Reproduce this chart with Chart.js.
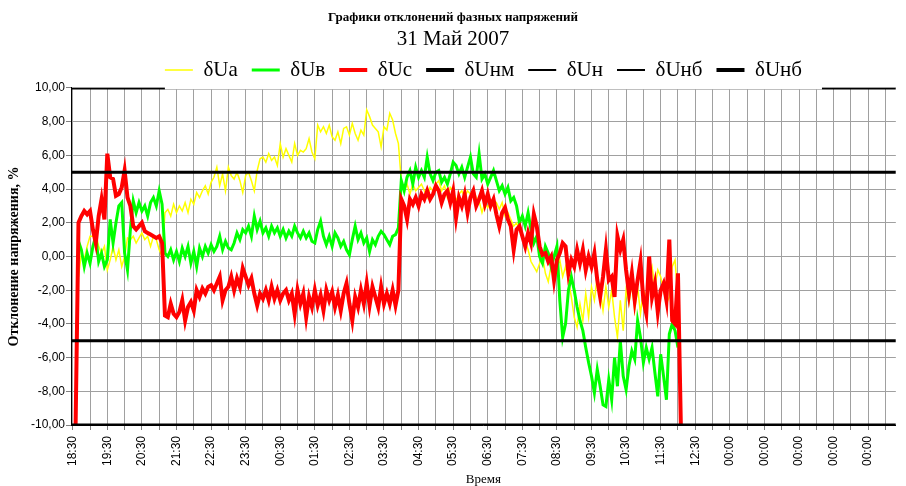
<!DOCTYPE html>
<html>
<head>
<meta charset="utf-8">
<script src="https://cdn.jsdelivr.net/npm/chart.js@4.4.1/dist/chart.umd.min.js"></script>
<style>
  html, body { margin: 0; padding: 0; background: #fff; overflow: hidden; }
</style>
</head>
<body>
<canvas id="chart" width="906" height="486"></canvas>
<script>
// ==================== Phase voltage deviations, 31 May 2007 ====================

// --- time base: minutes after 18:30, one sample every 5 min starting at 18:35 ---
const T0 = 5, STEP = 5;
const X_MIN = -3, X_MAX = 1428;

// hour labels (every 60 min from 18:30), empty categories shown as 00:00
const XLABELS = ['18:30','19:30','20:30','21:30','22:30','23:30','00:30','01:30','02:30',
  '03:30','04:30','05:30','06:30','07:30','08:30','09:30','10:30','11:30','12:30',
  '00:00','00:00','00:00','00:00','00:00'];

// --- δUa (yellow) ---
const UA = [
  null, -1.2, 0.2, -0.2, 0.6, 1.2, 1.2, 1.4, 0.6, 0.2, 0.6, -0.8,
  -0.2, 0.6, -0.2, 0.4, -0.6, 0.0, 1.1, 1.0, 1.2, 0.8, 1.1, 1.4,
  1.0, 1.2, 0.6, 1.2, 1.0, 0.4, 0.0, 2.6, 2.8, 2.4, 3.1, 2.6,
  3.0, 2.7, 3.2, 2.6, 3.4, 3.1, 3.8, 3.5, 3.9, 4.2, 3.7, 4.4,
  4.7, 5.3, 4.2, 4.9, 3.9, 5.3, 4.8, 4.6, 5.0, 4.5, 3.8, 4.8,
  5.0, 4.5, 3.9, 5.1, 5.8, 5.9, 5.6, 6.1, 5.7, 5.9, 5.4, 6.7,
  5.9, 6.4, 6.0, 5.6, 6.7, 6.0, 6.3, 6.2, 6.4, 7.0, 6.2, 5.8,
  7.8, 7.4, 7.7, 7.3, 7.8, 7.1, 6.9, 7.4, 6.7, 7.6, 7.7, 7.2,
  7.9, 7.3, 6.9, 7.5, 7.2, 8.7, 8.3, 7.8, 7.6, 7.4, 6.5, 7.7,
  7.5, 8.5, 8.1, 7.3, 6.7, 4.5, 3.9, 4.3, 3.7, 4.3, 3.9, 4.1,
  4.3, 3.9, 3.5, 4.1, 3.9, 4.3, 4.5, 3.9, 4.2, 3.5, 4.1, 3.9,
  3.3, 3.7, 3.9, 3.5, 3.9, 3.7, 4.0, 3.5, 3.3, 2.6, 3.2, 2.9,
  3.3, 3.0, 3.2, 2.8, 3.2, 2.4, 2.6, 2.2, 1.8, 2.0, 1.6, 1.2,
  0.9, 0.4, -0.3, -0.6, -0.9, -0.4, 0.0, -1.0, -1.5, -0.5, -1.0, -0.6,
  -0.2, -1.2, -0.6, -1.4, -2.4, -3.6, -4.2, -2.8, -3.8, -2.2, -3.6, -1.8,
  -2.6, -1.2, -2.0, -3.2, -1.8, -3.0, -2.0, -3.6, -4.8, -2.6, -4.4, -2.0,
  -2.8, -1.6, -3.2, -1.8, -3.4, -2.0, -2.4, -1.2, -0.6, -1.8, -0.8, -1.2,
  -2.0, -2.8, -2.4, -0.6, -0.2, -2.6, null
];

// --- δUв (green) ---
const UB = [
  null, 0.9, 0.4, -0.6, 0.2, -0.4, 0.6, 1.2, -0.3, 0.2, -0.6, -0.2,
  2.2, 0.8, 2.0, 3.0, 3.2, 0.2, -0.8, 1.6, 3.3, 2.6, 3.2, 2.7,
  3.0, 2.4, 3.2, 3.5, 3.0, 3.9, 3.1, 0.2, 0.0, 0.4, -0.2, 0.3,
  -0.3, 0.5, 0.0, 0.6, -0.4, 0.3, -0.6, 0.5, 0.0, 0.6, 0.2, 0.7,
  0.3, 0.6, 1.2, 0.4, 0.9, 0.5, 0.4, 0.8, 1.4, 1.0, 1.6, 1.4,
  1.8, 1.2, 2.4, 1.6, 2.1, 1.4, 1.7, 1.2, 1.8, 1.4, 1.7, 1.2,
  1.6, 1.1, 1.5, 1.2, 1.8, 1.4, 1.1, 1.5, 1.1, 1.4, 0.9, 0.8,
  1.6, 2.1, 1.2, 0.7, 1.2, 0.6, 1.4, 1.1, 0.6, 0.9, 0.4, 0.1,
  1.0, 1.8, 1.0, 1.4, 0.8, 1.1, 0.3, 1.0, 0.7, 1.2, 1.5, 1.3,
  1.0, 0.7, 1.2, 1.3, 1.7, 4.5, 3.9, 4.7, 5.1, 4.3, 5.3, 4.7,
  5.1, 4.7, 5.9, 4.9, 4.5, 5.0, 5.1, 4.4, 4.7, 4.3, 4.9, 5.6,
  5.4, 4.9, 5.3, 4.7, 5.3, 5.9, 4.9, 4.7, 6.1, 4.6, 4.9, 4.3,
  4.7, 5.1, 4.5, 3.9, 4.2, 3.7, 4.1, 3.3, 3.5, 3.0, 2.0, 2.4,
  1.8, 2.6, 1.6, 0.8, 1.2, 0.0, -0.4, 0.6, 0.2, -0.6, 0.0, 0.6,
  -2.6, -4.8, -4.0, -2.0, -1.2, -2.0, -3.0, -3.8, -4.4, -5.4, -6.3, -7.1,
  -8.1, -6.7, -7.7, -8.8, -8.9, -7.3, -8.5, -6.0, -7.7, -5.0, -7.1, -7.9,
  -6.5, -5.6, -6.1, -3.8, -4.8, -6.3, -5.4, -6.1, -5.4, -6.9, -8.3, -5.8,
  -7.1, -8.5, -4.6, -4.0, -4.4, -5.4, null
];

// --- δUc (red) ---
const UC = [
  -10, 2.0, 2.4, 2.7, 2.5, 2.7, 1.6, 0.8, 2.4, 3.4, 2.2, 6.1,
  4.7, 4.6, 3.6, 3.7, 4.1, 5.1, 3.5, 3.0, 1.8, 1.6, 1.8, 2.0,
  1.5, 1.4, 1.3, 1.2, 1.1, 1.2, 0.8, -3.5, -3.6, -2.8, -3.4, -3.6,
  -3.3, -2.6, -3.8, -3.0, -2.7, -3.2, -2.0, -2.4, -1.9, -2.2, -1.8, -1.7,
  -2.0, -1.6, -1.2, -2.6, -2.0, -1.8, -1.2, -2.0, -1.3, -1.8, -0.7, -1.2,
  -1.7, -1.3, -2.2, -2.9, -2.2, -2.5, -2.0, -2.6, -1.8, -2.5, -2.0, -2.6,
  -2.2, -2.0, -2.6, -2.2, -3.4, -2.0, -2.8, -2.2, -3.6, -2.4, -3.0, -2.0,
  -2.9, -2.3, -3.2, -2.0, -2.6, -2.1, -3.0, -2.3, -3.2, -2.2, -1.6, -2.8,
  -3.8, -2.4, -3.0, -2.0, -2.8, -1.6, -2.9, -1.8, -2.4, -3.0, -1.8, -2.8,
  -2.2, -2.8, -2.0, -2.9, -2.0, 3.4, 3.0, 2.2, 3.4, 3.1, 3.5, 3.0,
  3.7, 3.4, 3.9, 3.4, 3.7, 4.2, 3.9, 3.2, 3.7, 3.9, 3.2, 3.9,
  2.3, 3.5, 3.0, 3.7, 2.6, 3.5, 3.9, 3.0, 3.4, 3.9, 3.1, 3.7,
  3.0, 3.4, 2.5, 1.8, 2.6, 2.9, 2.2, 1.8, 0.4, 1.6, 1.8, 1.2,
  0.6, 1.4, 0.8, 2.5, 1.8, 0.6, 0.1, 0.2, -0.3, 0.0, -1.4, -0.2,
  0.2, 0.8, 0.6, -1.0, -0.2, -0.6, 0.4, -0.4, 0.4, -0.8, 0.0, -0.6,
  0.2, -1.4, -2.4, -1.2, 0.4, -1.4, -1.2, -2.4, 1.2, 0.4, 1.0, -0.8,
  -2.2, -1.0, -2.6, -1.4, -0.3, -2.6, -3.4, 0.0, -2.4, -1.6, -3.3, -2.0,
  -1.6, -2.6, 1.0, -3.8, -4.0, -1.0, -10
];

// --- limit levels, % ---
const LIMIT_NM = -5, LIMIT_N = -10, LIMIT_NB = 10, LIMIT_NB2 = 5;

// --- helpers ---
const toPoints = arr => arr.map((v, i) => ({ x: T0 + i * STEP, y: v }));
const flat = v => [{ x: X_MIN, y: v }, { x: X_MAX, y: v }];

const halfHours = [];
for (let t = 0; t <= 1410; t += 30) halfHours.push(t);

function lineDs(label, data, color, width, order, legendWidth) {
  return {
    label, data, borderColor: color, backgroundColor: color,
    borderWidth: width, pointRadius: 0, tension: 0, fill: false,
    order, legendWidth
  };
}

// white box under the legend, it covers the top edge of the plot like in the original
const legendGap = {
  id: 'legendGap',
  afterDatasetsDraw(chart) {
    const boxes = chart.legend && chart.legend.legendHitBoxes;
    if (!boxes || !boxes.length) return;
    const last = boxes[boxes.length - 1];
    const l = boxes[0].left, r = last.left + last.width + 20;
    const ctx = chart.ctx;
    ctx.save();
    ctx.fillStyle = '#fff';
    ctx.fillRect(l, chart.chartArea.top - 3, r - l, 4.5);
    ctx.restore();
  }
};

const serif = 'Liberation Serif, Times New Roman, serif';
const sans = 'Liberation Sans, Arial, sans-serif';

new Chart(document.getElementById('chart'), {
  type: 'line',
  data: {
    datasets: [
      lineDs('δUa', toPoints(UA), '#ffff00', 1.5, 3, 1.5),
      lineDs('δUв', toPoints(UB), '#00ff00', 3, 2, 3),
      lineDs('δUc', toPoints(UC), '#ff0000', 4, 1, 4),
      lineDs('δUнм', flat(LIMIT_NM), '#000000', 3, 0, 4),
      lineDs('δUн', flat(LIMIT_N), '#000000', 3, 0, 2),
      lineDs('δUнб', flat(LIMIT_NB), '#000000', 3, 0, 2),
      lineDs('δUнб', flat(LIMIT_NB2), '#000000', 3, 0, 4)
    ]
  },
  plugins: [legendGap],
  options: {
    responsive: false,
    animation: false,
    devicePixelRatio: 1,
    layout: { padding: 0 },
    plugins: {
      tooltip: { enabled: false },
      title: {
        display: true,
        text: 'Графики отклонений фазных напряжений',
        color: '#000',
        font: { family: serif, size: 13, weight: 'bold', lineHeight: 1.2 },
        padding: { top: 10, bottom: 7.4 }
      },
      subtitle: {
        display: true,
        text: '31 Май 2007',
        color: '#000',
        font: { family: serif, size: 21, lineHeight: 0.595 },
        padding: 0
      },
      legend: {
        position: 'top',
        fullSize: false,
        maxHeight: 42.5,
        labels: {
          color: '#000',
          font: { family: serif, size: 21 },
          usePointStyle: true,
          pointStyle: 'line',
          pointStyleWidth: 28,
          padding: 14,
          sort: (a, b) => a.datasetIndex - b.datasetIndex,
          generateLabels(chart) {
            const items = Chart.defaults.plugins.legend.labels.generateLabels(chart);
            items.forEach(it => {
              const ds = chart.data.datasets[it.datasetIndex];
              it.lineWidth = ds.legendWidth;
              it.pointStyle = 'line';
            });
            return items;
          }
        }
      }
    },
    scales: {
      x: {
        type: 'linear',
        min: X_MIN,
        max: X_MAX,
        afterBuildTicks: s => { s.ticks = halfHours.map(v => ({ value: v })); },
        afterFit: s => { s.height = 61; },
        ticks: {
          autoSkip: false,
          maxRotation: 90,
          minRotation: 90,
          padding: 6,
          color: '#000',
          font: { family: sans, size: 12 },
          callback: v => (v % 60 === 0 ? XLABELS[v / 60] : '')
        },
        grid: { color: '#a0a0a0', tickLength: 5, tickColor: '#808080' },
        border: { color: '#000' },
        title: {
          display: true,
          text: 'Время',
          color: '#000',
          font: { family: serif, size: 13, lineHeight: 1 },
          padding: { top: 0, bottom: 0 }
        }
      },
      y: {
        min: -10,
        max: 10,
        afterFit: s => { s.width = 71; },
        ticks: {
          stepSize: 1,
          padding: 1,
          color: '#000',
          font: { family: sans, size: 12 },
          callback: v => v.toFixed(2).replace('.', ',')
        },
        grid: { color: '#a0a0a0', tickLength: 5, tickColor: '#808080' },
        border: { color: '#000' },
        title: {
          display: true,
          text: 'Отклонение напряжения, %',
          color: '#000',
          font: { family: serif, size: 14, weight: 'bold', lineHeight: 1.2 },
          padding: { top: 5.6, bottom: 0 }
        }
      }
    }
  }
});
</script>
</body>
</html>
